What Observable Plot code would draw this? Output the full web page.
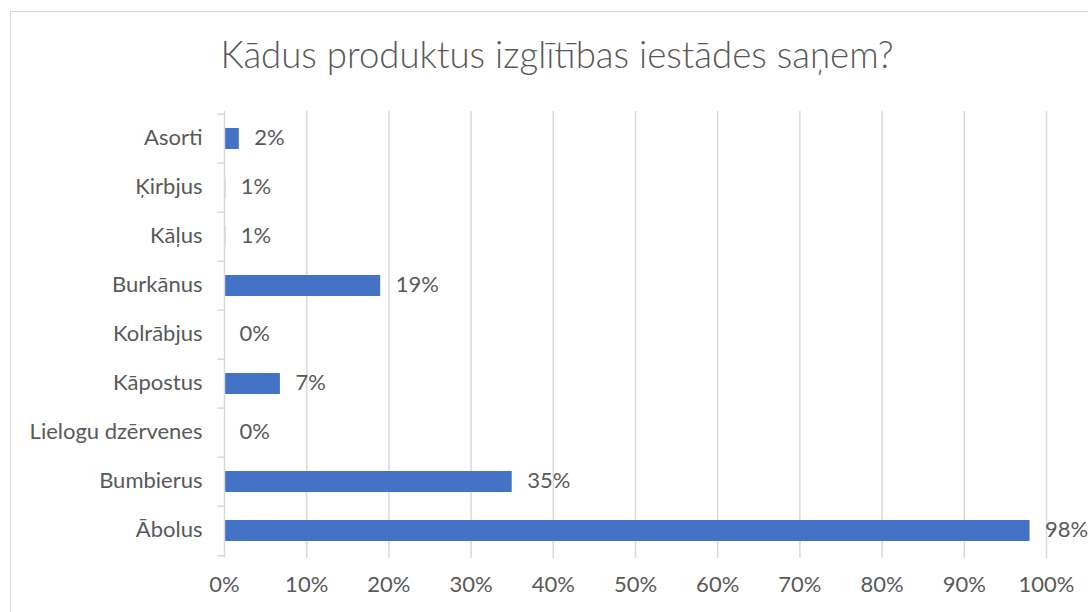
<!DOCTYPE html>
<html><head><meta charset="utf-8">
<script src="https://cdn.jsdelivr.net/npm/d3@7"></script>
<script src="https://cdn.jsdelivr.net/npm/@observablehq/plot@0.6"></script>
<style>
body{margin:0;background:#fff;overflow:hidden;width:1088px;height:612px;position:relative;}
#frame{position:absolute;left:10px;top:11px;width:1100px;height:640px;border:1px solid #d9d9d9;}
#title{position:absolute;left:0;top:33px;width:1114px;text-align:center;font-family:Lato;font-weight:300;font-size:36.6px;line-height:42px;color:#595959;white-space:nowrap;}
#chart{position:absolute;left:0;top:0;}
</style></head><body>
<div id="frame"></div>
<div id="title">Kādus produktus izglītības iestādes saņem?</div>
<div id="chart"></div>
<script>
const categories = ["Asorti","Ķirbjus","Kāļus","Burkānus","Kolrābjus","Kāpostus","Lielogu dzērvenes","Bumbierus","Ābolus"];
const values = [1.8, 0.15, 0.15, 19, 0, 6.8, 0, 35, 98];
const labels = ["2%","1%","1%","19%","0%","7%","0%","35%","98%"];
const xTicks = [0,10,20,30,40,50,60,70,80,90,100];

const data = categories.map((c,i)=>({category:c, value:values[i], label:labels[i]}));
const top0 = 111, bottom0 = 558;
const step = (bottom0-top0)/categories.length;
const grey = "#d9d9d9";
const plot = Plot.plot({
  width:1088, height:612,
  marginLeft:224, marginRight:42, marginTop:top0, marginBottom:612-bottom0,
  style:{fontFamily:"Lato", fontSize:"22px", color:"#595959", background:"transparent"},
  x:{domain:[0,100], ticks:xTicks, tickFormat:d=>d+"%"},
  y:{domain:categories, paddingInner:0.58, paddingOuter:0.29, align:0.5, label:null},
  marks:[
    Plot.gridX(xTicks.slice(1), {stroke:grey, strokeOpacity:1, strokeWidth:1.5}),
    Plot.barX(data, {x:"value", y:"category", fill:"#4472c4"}),
    Plot.ruleX([0], {stroke:grey, strokeWidth:1.5}),
    Plot.ruleY(categories, {y:d=>d, dy:-step/2, x1:-0.8, x2:0, stroke:grey, strokeWidth:1.5}),
    Plot.ruleY([categories[categories.length-1]], {y:d=>d, dy:step/2, x1:-0.8, x2:0, stroke:grey, strokeWidth:1.5}),
    Plot.text(data, {x:"value", y:"category", text:"label", textAnchor:"start", dx:15, dy:-1, fill:"#595959"}),
    Plot.axisX({ticks:xTicks, tickSize:0, tickPadding:18, tickFormat:d=>d+"%", label:null, fill:"#595959"}),
    Plot.axisY({tickSize:0, tickPadding:22, dy:-1, label:null, fill:"#595959"})
  ]
});
document.getElementById("chart").appendChild(plot);
</script>
</body></html>
